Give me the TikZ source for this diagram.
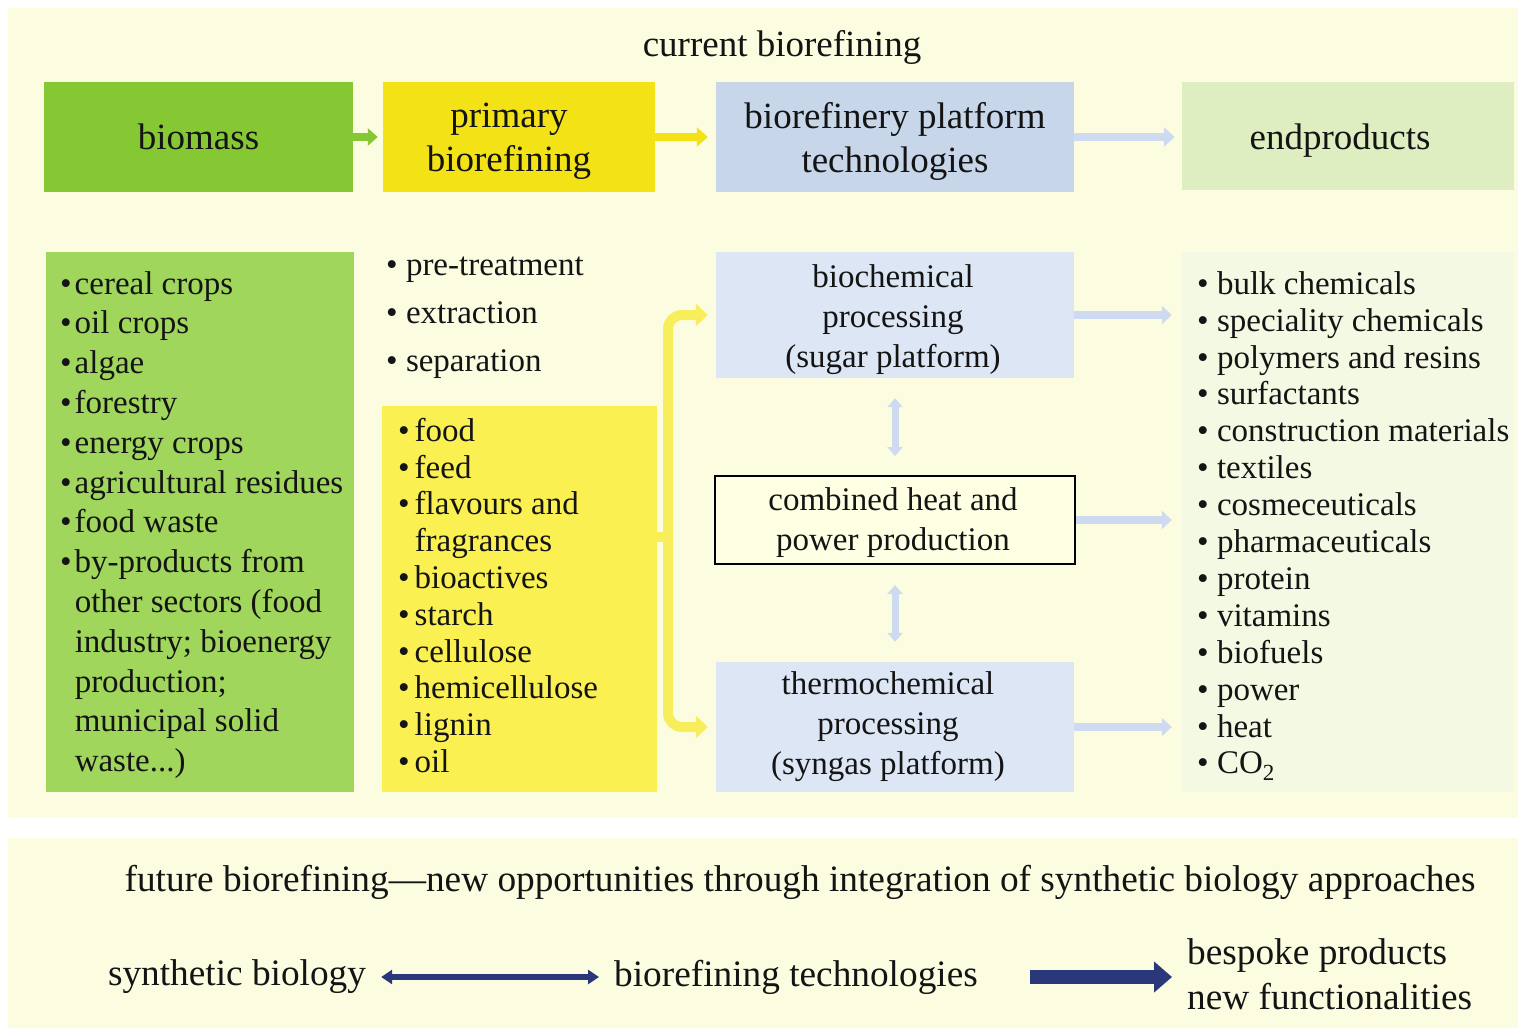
\documentclass[tikz,border=0pt]{standalone}
\usepackage{fontspec}
\setmainfont{Liberation Serif}
\usetikzlibrary{arrows.meta}

\definecolor{panel}{RGB}{252,253,224}
\definecolor{biomassgreen}{RGB}{134,200,52}
\definecolor{listgreen}{RGB}{160,214,92}
\definecolor{primyellow}{RGB}{243,226,22}
\definecolor{listyellow}{RGB}{250,240,82}
\definecolor{bracketyellow}{RGB}{248,238,92}
\definecolor{platblue}{RGB}{200,214,234}
\definecolor{procblue}{RGB}{221,230,244}
\definecolor{arrowblue}{RGB}{205,218,240}
\definecolor{endgreen}{RGB}{222,238,192}
\definecolor{outfill}{RGB}{244,249,228}
\definecolor{chpfill}{RGB}{255,255,228}
\definecolor{navy}{RGB}{42,55,122}
\definecolor{ink}{RGB}{20,20,20}

\begin{document}
\begin{tikzpicture}[x=1pt,y=-1pt,
  every node/.style={text=ink},
  panelbox/.style={fill=panel, inner sep=0pt},
  hdr/.style={inner sep=0pt, align=center, font=\fontsize{37}{44}\selectfont},
  blockbox/.style={inner sep=0pt},
  listtxt/.style={inner sep=0pt, align=left, font=\fontsize{33}{39.8}\selectfont},
  proc/.style={fill=procblue, inner sep=0pt, minimum width=358pt},
  proctxt/.style={inner sep=0pt, align=center, font=\fontsize{33}{40}\selectfont},
  bottxt/.style={inner sep=0pt, font=\fontsize{37.3}{45}\selectfont},
  hdrarrow/.style={line width=8pt, -{Triangle[width=19pt,length=11pt]}},
  bluearrow/.style={draw=arrowblue, line width=8pt, -{Triangle[width=18pt,length=10pt]}},
  vdouble/.style={draw=arrowblue, line width=7pt,
    {Triangle[width=15pt,length=9pt]}-{Triangle[width=15pt,length=9pt]}},
  bracket/.style={draw=bracketyellow, line width=10pt},
]
\useasboundingbox (0,0) rectangle (1520,1030);
\fill[white] (0,0) rectangle (1520,1030);

% background panels
\node[panelbox, minimum width=1510pt, minimum height=810pt] (toppanel) at (763,413) {};
\node[panelbox, minimum width=1510pt, minimum height=190pt] (botpanel) at (763,933) {};

% title
\node[hdr] (title) at (782,47) {current biorefining};

% header row
\node[hdr, fill=biomassgreen, minimum width=309pt, minimum height=110pt] (biomass) at (198.5,137) {biomass};
\node[blockbox, fill=primyellow, minimum width=272pt, minimum height=110pt] (primary) at (519,137) {};
\node[hdr] (primarytxt) at (509,141) {primary\\biorefining};
\node[blockbox, fill=platblue, minimum width=358pt, minimum height=110pt] (platform) at (895,137) {};
\node[hdr] (platformtxt) at (895,141) {biorefinery platform\\technologies};
\node[blockbox, fill=endgreen, minimum width=332pt, minimum height=108pt] (endproducts) at (1348,136) {};
\node[hdr] (endproductstxt) at (1340,141) {endproducts};

\draw[hdrarrow, draw=biomassgreen, -{Triangle[width=17pt,length=10pt]}, shorten >=5pt] (biomass) -- (primary);
\draw[hdrarrow, draw=primyellow, shorten >=8pt] (primary) -- (platform);
\draw[hdrarrow, draw=arrowblue, shorten >=7pt] (platform.east) -- (endproducts.west |- platform.east);

% biomass sources
\node[blockbox, fill=listgreen, minimum width=308pt, minimum height=540pt] (sources) at (200,522) {};
\node[listtxt, anchor=west] (sourcelist) at (60,525) {%
•\hspace{3pt}cereal crops\\
•\hspace{3pt}oil crops\\
•\hspace{3pt}algae\\
•\hspace{3pt}forestry\\
•\hspace{3pt}energy crops\\
•\hspace{3pt}agricultural residues\\
•\hspace{3pt}food waste\\
•\hspace{3pt}by-products from\\
\phantom{•\hspace{3pt}}other sectors (food\\
\phantom{•\hspace{3pt}}industry; bioenergy\\
\phantom{•\hspace{3pt}}production;\\
\phantom{•\hspace{3pt}}municipal solid\\
\phantom{•\hspace{3pt}}waste...)};

% primary processing steps
\node[listtxt, anchor=west, font=\fontsize{33}{48}\selectfont] (steps) at (386,318) {%
•\ pre-treatment\\
•\ extraction\\
•\ separation};

% primary fractions
\node[blockbox, fill=listyellow, minimum width=275pt, minimum height=386pt] (fractions) at (519.5,599) {};
\node[listtxt, anchor=west, font=\fontsize{33}{36.8}\selectfont] (fractionlist) at (398,595.5) {%
•\hspace{5pt}food\\
•\hspace{5pt}feed\\
•\hspace{5pt}flavours and\\
\phantom{•\hspace{5pt}}fragrances\\
•\hspace{5pt}bioactives\\
•\hspace{5pt}starch\\
•\hspace{5pt}cellulose\\
•\hspace{5pt}hemicellulose\\
•\hspace{5pt}lignin\\
•\hspace{5pt}oil};

% platform processes
\node[proc, minimum height=126pt] (biochem) at (895,315) {};
\node[proctxt] (biochemtxt) at (893,320) {biochemical\\processing\\(sugar platform)};
\node[draw=black, line width=2pt, fill=chpfill, inner sep=0pt,
  minimum width=360pt, minimum height=88pt] (chp) at (895,520) {};
\node[proctxt] (chptxt) at (893,523) {combined heat and\\power production};
\node[proc, minimum height=130pt] (thermo) at (895,727) {};
\node[proctxt] (thermotxt) at (888,727) {thermochemical\\processing\\(syngas platform)};

% end products
\node[blockbox, fill=outfill, minimum width=332pt, minimum height=540pt] (outputs) at (1348,522) {};
\node[listtxt, anchor=west, font=\fontsize{33}{36.9}\selectfont] (outputlist) at (1197,526) {%
•\ bulk chemicals\\
•\ speciality chemicals\\
•\ polymers and resins\\
•\ surfactants\\
•\ construction materials\\
•\ textiles\\
•\ cosmeceuticals\\
•\ pharmaceuticals\\
•\ protein\\
•\ vitamins\\
•\ biofuels\\
•\ power\\
•\ heat\\
•\ CO\textsubscript{2}};

% fractions feed both platforms
\coordinate (spine) at (668,537);
\draw[bracket] (fractions.east |- spine) -- (spine);
\draw[bracket, rounded corners=14pt, -{Triangle[width=22pt,length=12pt]}, shorten >=8pt] (spine) |- (biochem.west);
\draw[bracket, rounded corners=14pt, -{Triangle[width=22pt,length=12pt]}, shorten >=8pt] (spine) |- (thermo.west);

% exchange with heat and power
\draw[vdouble, shorten <=20pt, shorten >=19pt] (biochem) -- (chp);
\draw[vdouble, shorten <=20pt, shorten >=20pt] (chp) -- (thermo);

% platforms to end products
\draw[bluearrow, shorten >=10pt] (biochem.east) -- (outputs.west |- biochem.east);
\draw[bluearrow, shorten >=10pt] (chp.east) -- (outputs.west |- chp.east);
\draw[bluearrow, shorten >=10pt] (thermo.east) -- (outputs.west |- thermo.east);

% future biorefining
\node[bottxt] (future) at (800,882) {future biorefining—new opportunities through integration of synthetic biology approaches};
\node[bottxt] (synbio) at (237,977) {synthetic biology};
\node[bottxt] (biotech) at (796,977) {biorefining technologies};
\node[bottxt, anchor=west, align=left] (bespoke) at (1187,974) {bespoke products\\new functionalities};

\draw[draw=navy, line width=6.5pt, {Triangle[width=14pt,length=11pt]}-{Triangle[width=14pt,length=11pt]},
  shorten <=15pt, shorten >=15pt] (synbio) -- (biotech);
\draw[draw=navy, line width=14pt, -{Triangle[width=30pt,length=18pt]},
  shorten <=52pt, shorten >=15pt] (biotech.east) -- (biotech.east -| bespoke.west);
\end{tikzpicture}
\end{document}
